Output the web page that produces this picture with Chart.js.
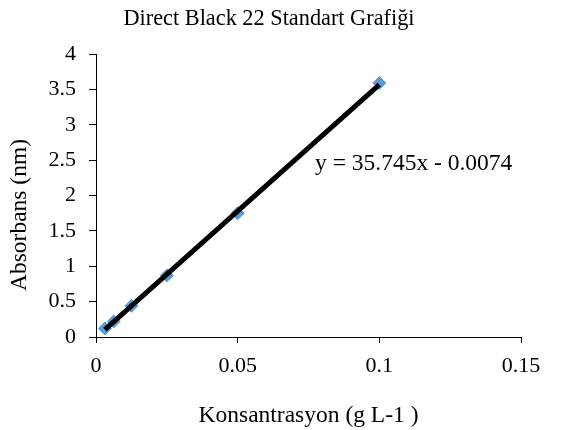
<!DOCTYPE html>
<html>
<head>
<meta charset="utf-8">
<script src="https://cdn.jsdelivr.net/npm/chart.js@4"></script>
<style>
  html, body { margin: 0; padding: 0; background: #fff; }
  #wrap { width: 562px; height: 430px; }
</style>
</head>
<body>
<div id="wrap"><canvas id="chart" width="562" height="430"></canvas></div>
<script>
const concentrations = [0.003125, 0.00625, 0.0125, 0.025, 0.05, 0.1];
const absorbances = [0.12, 0.22, 0.44, 0.87, 1.75, 3.59];
const trendX = [0.003125, 0.1];
const trendY = [0.104, 3.567];
const xTicks = [0, 0.05, 0.1, 0.15];
const xTickLabels = ["0", "0.05", "0.1", "0.15"];
const yTicks = [0, 0.5, 1, 1.5, 2, 2.5, 3, 3.5, 4];
const yTickLabels = ["0", "0.5", "1", "1.5", "2", "2.5", "3", "3.5", "4"];
const chartTitle = "Direct Black 22 Standart Grafiği";
const yTitle = "Absorbans (nm)";
const xTitle = "Konsantrasyon (g L-1 )";
const equation = "y = 35.745x - 0.0074";
const equationAt = { x: 0.0773, y: 2.45 };

const serif = "'Liberation Serif', 'Times New Roman', serif";
Chart.defaults.font.family = serif;
Chart.defaults.font.size = 22;
Chart.defaults.color = "#000";

// title, y title and the trendline equation are drawn by hand
const extraText = {
  id: "extraText",
  afterDraw(chart) {
    const ctx = chart.ctx;
    const { x, y } = chart.scales;
    ctx.save();
    ctx.fillStyle = "#000";
    ctx.textBaseline = "middle";
    ctx.font = "22.3px " + serif;
    ctx.textAlign = "center";
    ctx.fillText(chartTitle, 269, 19);
    ctx.font = "23.5px " + serif;
    ctx.textAlign = "left";
    ctx.fillText(equation, x.getPixelForValue(equationAt.x), y.getPixelForValue(equationAt.y));
    ctx.translate(20, 215);
    ctx.rotate(-Math.PI / 2);
    ctx.textAlign = "center";
    ctx.fillText(yTitle, 0, 0);
    ctx.restore();
  },
};

const ctx = document.getElementById("chart");

new Chart(ctx, {
  type: "scatter",
  data: {
    datasets: [
      {
        label: "Trend",
        data: trendX.map((v, i) => ({ x: v, y: trendY[i] })),
        showLine: true,
        borderColor: "#000",
        borderWidth: 5,
        pointRadius: 0,
      },
      {
        label: "Absorbans",
        data: concentrations.map((v, i) => ({ x: v, y: absorbances[i] })),
        pointStyle: "rectRot",
        pointRadius: 6.5,
        backgroundColor: "#5b9bd5",
        borderColor: "#5b9bd5",
        borderWidth: 1,
      },
    ],
  },
  options: {
    responsive: false,
    animation: false,
    layout: { padding: { left: 0, right: 41, top: 54, bottom: 0 } },
    plugins: {
      legend: { display: false },
      tooltip: { enabled: false },
      title: { display: false },
    },
    scales: {
      x: {
        type: "linear",
        min: 0,
        max: 0.15,
        afterBuildTicks: (s) => { s.ticks = xTicks.map((v) => ({ value: v })); },
        afterFit: (s) => { s.height = 93; },
        grid: { drawOnChartArea: false, color: "#000", tickLength: 6 },
        border: { color: "#000", width: 1 },
        ticks: { padding: 10, maxRotation: 0, autoSkip: false, callback: (v, i) => xTickLabels[i] },
        title: { display: true, text: xTitle, font: { size: 23.5 }, padding: { top: 0, bottom: 0 } },
      },
      y: {
        min: 0,
        max: 4,
        afterBuildTicks: (s) => { s.ticks = yTicks.map((v) => ({ value: v })); },
        afterFit: (s) => { s.width = 96; },
        grid: { drawOnChartArea: false, color: "#000", tickLength: 7 },
        border: { color: "#000", width: 1 },
        ticks: { padding: 13, autoSkip: false, callback: (v, i) => yTickLabels[i] },
      },
    },
  },
  plugins: [extraText],
});
</script>
</body>
</html>
